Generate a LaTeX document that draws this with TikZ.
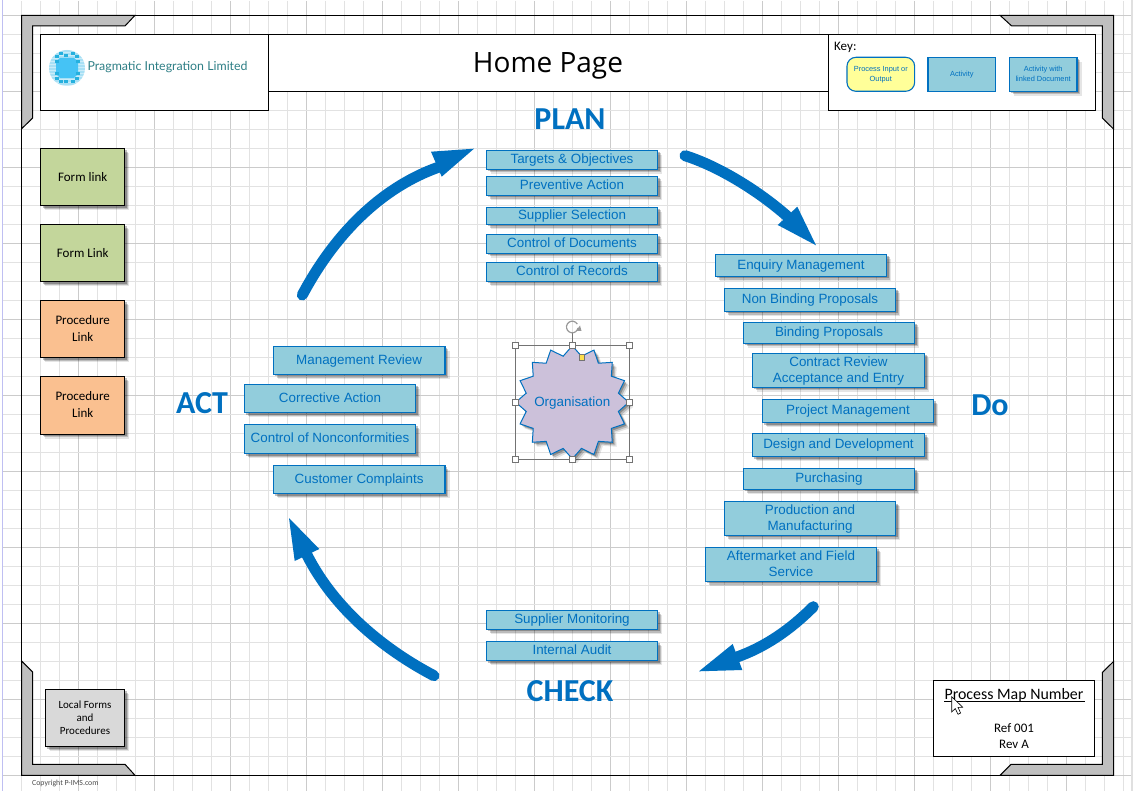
\documentclass[tikz,border=0pt]{standalone}
\usepackage{fontspec}
\setmainfont{Carlito}
\newfontfamily\arialf{Liberation Sans}
\newfontfamily\osf{Open Sans}
\newfontfamily\logof{Lato}
\usetikzlibrary{shadows}
\definecolor{pblue}{HTML}{0070C0}
\definecolor{actfill}{HTML}{92CDDC}
\definecolor{cornergray}{HTML}{BFBFBF}
\definecolor{gridminor}{HTML}{E2E2E2}
\definecolor{gridmajor}{HTML}{CBCBCB}
\definecolor{formgreen}{HTML}{C3D69B}
\definecolor{procorange}{HTML}{FAC090}
\definecolor{localgray}{HTML}{D9D9D9}
\definecolor{keyyellow}{HTML}{FFFF99}
\definecolor{starfill}{HTML}{CCC1DA}
\definecolor{logoteal}{HTML}{2E7F86}
\definecolor{logolight}{HTML}{A8E0F5}
\definecolor{logomid}{HTML}{45C3F5}
\definecolor{logodark}{HTML}{25B0DE}
\tikzset{
  softshadow/.style={general shadow={shadow xshift=4.5pt,shadow yshift=-4.5pt,fill=black,opacity=.10},
                     general shadow={shadow xshift=3.2pt,shadow yshift=-3.2pt,fill=black,opacity=.18},
                     general shadow={shadow xshift=1.8pt,shadow yshift=-1.8pt,fill=black,opacity=.25}},
  plainbox/.style={draw=black,line width=1pt,fill=white,inner sep=0pt,font=\fontsize{13}{17}\selectfont,align=center},
  actbox/.style={draw=pblue,line width=1.1pt,fill=actfill,softshadow,inner sep=0pt,text=pblue,align=center,
                 font=\arialf\fontsize{13.4}{16}\selectfont},
  keybox/.style={actbox,font=\arialf\fontsize{7.4}{10}\selectfont},
  linkbox/.style={draw=black,line width=1pt,softshadow,inner sep=0pt,align=center,font=\fontsize{13}{17}\selectfont},
  phase/.style={text=pblue,font=\bfseries\fontsize{32}{34}\selectfont,inner sep=0pt},
  bigarrow/.style={draw=pblue,line width=11pt,line cap=round},
  arrowhead/.style={fill=pblue,draw=none},
  corner/.style={fill=cornergray,draw=black,line width=1pt,line join=miter},
  handle/.style={draw=black!55,fill=white,line width=.7pt,minimum size=6pt,inner sep=0pt},
}
\newcommand{\upstrut}{\vrule height\dimexpr\ht\strutbox+1.3pt\relax depth\dp\strutbox width0pt\relax}
\newcommand{\boxat}[7][actbox]{%
  \node[#1,minimum width={(#5-#3)*1pt},minimum height={(#6-#4)*1pt}] (#2) at ({(#3+#5)/2},{(#4+#6)/2}) {\upstrut #7\strut};}
\begin{document}
\begin{tikzpicture}[x=1pt,y=-1pt]
\useasboundingbox (0,0) rectangle (1135,791);
\fill[white] (0,0) rectangle (1135,791);
% grid
\foreach \k in {0,...,59}{
  \pgfmathtruncatemacro{\m}{mod(\k,4)}
  \ifnum\m=0\def\gc{gridmajor}\else\def\gc{gridminor}\fi
  \draw[\gc,line width=.9pt] ({2.6+19*\k},1) -- ({2.6+19*\k},791);
}
\foreach \k in {-1,...,40}{
  \pgfmathtruncatemacro{\m}{mod(\k+4,4)}
  \ifnum\m=0\def\gc{gridmajor}\else\def\gc{gridminor}\fi
  \draw[\gc,line width=.9pt] (2.6,{15+19*\k}) -- (1131.6,{15+19*\k});
}
\draw[black!20!blue!25!white,line width=1.2pt] (2.2,0) -- (2.2,791);
\draw[black!12,line width=1.2pt] (1132,0) -- (1132,791);
% frame
\draw[black,line width=1pt] (21.7,15.3) rectangle (1113.5,775.3);
\draw[corner] (21.7,15.3) -- (135,15.3) -- (125,26) -- (32.7,26) -- (32.7,118) -- (21.7,128.7) -- cycle;
\draw[corner] (1000,15.3) -- (1113.5,15.3) -- (1113.5,129) -- (1102.3,118) -- (1102.3,26) -- (1011.7,26) -- cycle;
\draw[corner] (21.7,661) -- (32.7,672) -- (32.7,764.3) -- (125,764.3) -- (135,775.3) -- (21.7,775.3) -- cycle;
\draw[corner] (1113.5,661.5) -- (1102.3,672.5) -- (1102.3,764.3) -- (1011,764.3) -- (1000,775.3) -- (1113.5,775.3) -- cycle;
% header
\node[plainbox,minimum width=560pt,minimum height=57pt] (titlebox) at (548.5,62.8) {};
\node[inner sep=0pt,font=\osf\fontsize{28}{32}\selectfont] (title) at (548,65.5) {Home Page};
\node[plainbox,minimum width=228pt,minimum height=76pt] (logobox) at (154.7,72.3) {};
\node[plainbox,minimum width=267.4pt,minimum height=76pt] (keyfr) at (962,72.3) {};
\node[anchor=west,inner sep=0pt,font=\fontsize{13}{15}\selectfont] (keylabel) at (834,47) {Key:};
% logo
\fill[logolight] (67,68) circle (18);
\foreach \yy in {52,55,58,61,64,67,70,73,76,79,82,85}{\draw[white,opacity=.4,line width=.6pt] (49,\yy) -- (85,\yy);}
\fill[logomid] (60,58) -- (74,58) -- (78,62) -- (78,74) -- (74,78) -- (60,78) -- (56,74) -- (56,62) -- cycle;
\foreach \px/\py in {55/55,59/52,71/52,75/55,55/60,76/60,55/72,76/72,55/77,59/80,71/80,75/77,64/54,64/80}{
  \fill[logodark] (\px,\py) rectangle ++(4,3.5);}
\node[anchor=west,inner sep=0pt,text=logoteal,font=\logof\fontsize{12.35}{15}\selectfont] (logotext) at (87.3,67.5) {Pragmatic Integration Limited};
% key
\node[draw=pblue,line width=1.1pt,fill=keyyellow,rounded corners=9pt,inner sep=0pt,text=pblue,align=center,
      font=\arialf\fontsize{7.4}{10}\selectfont,minimum width=67.7pt,minimum height=34pt] (keyio) at (880.8,74.3) {Process Input or\\Output};
\node[draw=pblue,line width=1.1pt,fill=actfill,inner sep=0pt,text=pblue,font=\arialf\fontsize{7.4}{10}\selectfont,
      minimum width=67.7pt,minimum height=34pt] (keyact) at (961.8,74.3) {Activity};
\boxat[keybox]{keylinked}{1009.3}{57.3}{1077}{91.3}{Activity with\\linked Document}
% side boxes
\boxat[linkbox,fill=formgreen]{form1}{40.7}{148.7}{124.7}{206}{Form link}
\boxat[linkbox,fill=formgreen]{form2}{40.7}{224.7}{124.7}{282}{Form Link}
\boxat[linkbox,fill=procorange]{proc1}{40.7}{300.7}{124.7}{358}{Procedure\\Link}
\boxat[linkbox,fill=procorange]{proc2}{40.7}{376.7}{124.7}{434}{Procedure\\Link}
\boxat[linkbox,fill=localgray,font=\fontsize{11}{13}\selectfont]{local}{45.3}{689.3}{124.7}{746.7}{Local Forms\\and\\Procedures}
% process map number
\node[draw=black,line width=1pt,fill=white,minimum width=161.4pt,minimum height=76pt,inner sep=0pt] (pmbox) at (1014,718.3) {};
\node[inner sep=0pt,font=\fontsize{15.9}{18}\selectfont] (pmtitle) at (1014,695) {Process Map Number};
\coordinate (ul1) at (944,701.7); \coordinate (ul2) at (1084.5,701.7);
\draw[black,line width=.9pt] (ul1) -- (ul2);
\node[inner sep=0pt,align=center,font=\fontsize{13}{16}\selectfont] (pmref) at (1014,736) {Ref 001\\Rev A};
% PLAN
\boxat{t1}{486.3}{150.3}{657.7}{169.3}{Targets \& Objectives}
\boxat{t2}{486.3}{176.3}{657.7}{195.7}{Preventive Action}
\boxat{t3}{486.3}{207.3}{657.7}{224.7}{Supplier Selection}
\boxat{t4}{486.3}{234.3}{657.7}{253.3}{Control of Documents}
\boxat{t5}{486.3}{262.3}{657.7}{281.7}{Control of Records}
% DO
\boxat{d1}{715.3}{254.3}{886.7}{276.7}{Enquiry Management}
\boxat{d2}{724.3}{288.3}{895.7}{311.7}{Non Binding Proposals}
\boxat{d3}{743.3}{322.3}{914.7}{343.3}{Binding Proposals}
\boxat{d4}{752.3}{353.3}{924.7}{387.3}{Contract Review\\Acceptance and Entry}
\boxat{d5}{762.3}{399.3}{933.7}{422.7}{Project Management}
\boxat{d6}{752.3}{433.3}{924.7}{456.7}{Design and Development}
\boxat{d7}{743.3}{468.3}{914.7}{489.3}{Purchasing}
\boxat{d8}{724.3}{501.7}{895.7}{535.3}{Production and\\Manufacturing}
\boxat{d9}{705.3}{547.3}{876.7}{581.3}{Aftermarket and Field\\Service}
% CHECK
\boxat{c1}{486.3}{610.3}{657.7}{629.3}{Supplier Monitoring}
\boxat{c2}{486.3}{641.3}{657.7}{660.7}{Internal Audit}
% ACT
\boxat{a1}{273.3}{346.3}{445}{374.7}{Management Review}
\boxat{a2}{244.3}{384.3}{415.7}{412.7}{Corrective Action}
\boxat{a3}{244.3}{424.3}{415.7}{453.7}{Control of Nonconformities}
\boxat{a4}{273.3}{465.3}{445}{493.7}{Customer Complaints}
% phase labels
\node[phase] (plan) at (570,119) {PLAN};
\node[phase] (do) at (990,405) {Do};
\node[phase] (check) at (570,691) {CHECK};
\node[phase] (act) at (202,403) {ACT};
% arrows
\coordinate (s1) at (302.3,295); \coordinate (e1) at (445,165);
\coordinate (s2) at (685,155.7); \coordinate (e2) at (787,216);
\coordinate (s3) at (813.3,606.7); \coordinate (e3) at (737,657);
\coordinate (s4) at (434,675.7); \coordinate (e4) at (307,555);
\draw[bigarrow] (s1) .. controls (338,228) and (388,183) .. (e1);
\fill[arrowhead] (474,148.7) -- (431,151.7) -- (441.7,176.7) -- cycle;
\draw[bigarrow] (s2) .. controls (715,165) and (755,188) .. (e2);
\fill[arrowhead] (816,245.3) -- (797.3,206.7) -- (777.7,225) -- cycle;
\draw[bigarrow] (s3) .. controls (790,630) and (765,647) .. (e3);
\fill[arrowhead] (699,671.3) -- (732.7,644) -- (742.3,670) -- cycle;
\draw[bigarrow] (s4) .. controls (385,650) and (335,610) .. (e4);
\fill[arrowhead] (289,518) -- (319.3,549) -- (294.7,561) -- cycle;
% organisation star with selection handles
\draw[black!55,line width=.8pt] (515.3,345.3) rectangle (629.3,459.3);
\draw[draw=pblue,line width=1pt,fill=starfill,line join=miter,softshadow]
  plot[samples at={0,...,31}] ({572.3+(mod(\x,2)==0?56.5:47)*cos(\x*11.25)},{402.3+(mod(\x,2)==0?56.5:47)*sin(\x*11.25)}) -- cycle;
\node[inner sep=0pt,text=pblue,font=\arialf\fontsize{13.4}{16}\selectfont] (org) at (572.3,403.5) {Organisation};
\coordinate (rot) at (572.3,327);
\draw[black!55,line width=.8pt] (572.3,333) -- (572.3,345.3);
\draw[black!40,line width=1.2pt] (578,328) arc[start angle=10,end angle=330,radius=5.8];
\fill[black!40] (576,331) -- (581.5,331) -- (580,325.5) -- cycle;
\foreach \hn/\hx/\hy in {h1/515.3/345.3,h2/572.3/345.3,h3/629.3/345.3,h4/515.3/402.3,h5/629.3/402.3,h6/515.3/459.3,h7/572.3/459.3,h8/629.3/459.3}{
  \node[handle] (\hn) at (\hx,\hy) {};}
\node[draw=black!55,fill=yellow!70!orange!70,line width=.7pt,minimum size=5.5pt,inner sep=0pt] (yhandle) at (581.7,357.3) {};
% cursor
\draw[black,fill=white,line width=.6pt,line join=miter] (951.7,696.7) -- (951.7,712) -- (955.3,708.6) -- (958,714.3) -- (960.6,713) -- (958,707.4) -- (962.7,707.2) -- cycle;
% copyright
\node[anchor=west,inner sep=0pt,text=black!70,font=\fontsize{7.8}{9}\selectfont] (copy) at (32,783) {Copyright P-IMS.com};
\end{tikzpicture}
\end{document}
